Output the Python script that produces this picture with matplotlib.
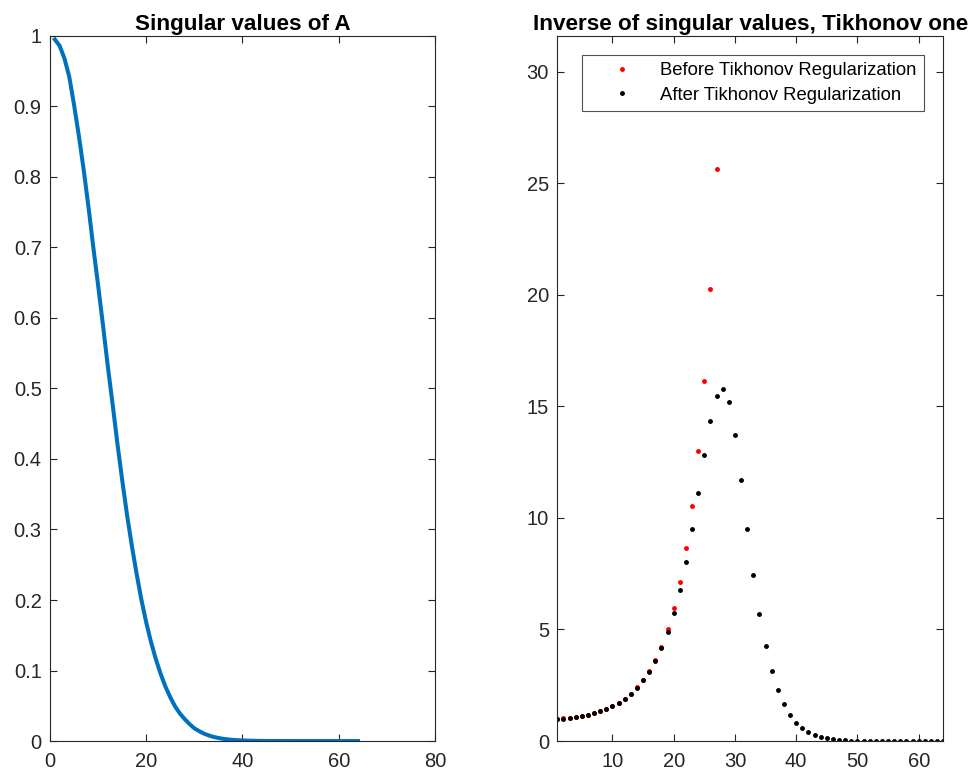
import matplotlib
matplotlib.use("Agg")
import matplotlib.pyplot as plt

plt.rcParams['font.family'] = ['Liberation Sans', 'DejaVu Sans']

# Singular values of A, index 1..64
sigma = [0.995, 0.986, 0.968, 0.942, 0.902, 0.858, 0.810, 0.757, 0.700, 0.646,
         0.590, 0.532, 0.478, 0.422, 0.370, 0.321, 0.277, 0.237, 0.200, 0.168,
         0.140, 0.116, 0.095, 0.077, 0.062, 0.049, 0.039, 0.031, 0.024, 0.018,
         0.014, 0.0105, 0.0079, 0.0058, 0.0043, 0.0031, 0.0023, 0.0016, 0.0012, 0.0008,
         0.0006, 0.0004, 0.00027, 0.00018, 0.00012, 0.00008, 0.00005, 0.00003, 0.00002, 0.00001,
         0.0, 0.0, 0.0, 0.0, 0.0, 0.0, 0.0, 0.0, 0.0, 0.0,
         0.0, 0.0, 0.0, 0.0]

# Inverse of singular values (only the part that stays inside the axes)
before = [1.005, 1.01, 1.03, 1.06, 1.11, 1.17, 1.24, 1.33, 1.44, 1.56,
          1.71, 1.90, 2.12, 2.40, 2.73, 3.13, 3.62, 4.23, 5.00, 5.95,
          7.13, 8.63, 10.54, 13.0, 16.15, 20.25, 25.62]

# Tikhonov filtered inverse, index 1..64
after = [0.99, 1.00, 1.03, 1.06, 1.11, 1.17, 1.24, 1.33, 1.44, 1.56,
         1.70, 1.90, 2.12, 2.39, 2.72, 3.11, 3.59, 4.17, 4.88, 5.74,
         6.79, 8.03, 9.48, 11.11, 12.80, 14.36, 15.46, 15.79, 15.18, 13.70,
         11.68, 9.50, 7.45, 5.68, 4.26, 3.14, 2.27, 1.64, 1.18, 0.82,
         0.58, 0.40, 0.27, 0.18, 0.12, 0.08, 0.05, 0.03, 0.02, 0.013,
         0.008, 0.005, 0.003, 0.002, 0.001, 0.0, 0.0, 0.0, 0.0, 0.0,
         0.0, 0.0, 0.0, 0.0]

idx_all = list(range(1, len(sigma) + 1))
idx_before = list(range(1, len(before) + 1))

axis_color = '#262626'

fig = plt.figure(figsize=(9.77, 7.74), dpi=100)
ax1 = fig.add_axes([0.0512, 0.0426, 0.394, 0.911])
ax2 = fig.add_axes([0.5704, 0.0426, 0.395, 0.911])

# Left panel: singular values
ax1.plot(idx_all, sigma, color='#0072BD', linewidth=2.9)
ax1.set_xlim(0, 80)
ax1.set_ylim(0, 1)
ax1.set_xticks([0, 20, 40, 60, 80])
ax1.set_yticks([0, 0.1, 0.2, 0.3, 0.4, 0.5, 0.6, 0.7, 0.8, 0.9, 1])
ax1.set_yticklabels(['0', '0.1', '0.2', '0.3', '0.4', '0.5', '0.6', '0.7', '0.8', '0.9', '1'])
ax1.set_title('Singular values of A', fontsize=16.2, fontweight='bold', pad=4)

# Right panel: inverse values before / after regularization
ax2.plot(idx_before, before, linestyle='none', marker='.', color='red',
         markersize=5, label='Before Tikhonov Regularization')
ax2.plot(idx_all, after, linestyle='none', marker='.', color='black',
         markersize=5, label='After Tikhonov Regularization')
ax2.set_xlim(1, 64)
ax2.set_ylim(0, 31.6)
ax2.set_xticks([10, 20, 30, 40, 50, 60])
ax2.set_yticks([0, 5, 10, 15, 20, 25, 30])
ax2.set_title('Inverse of singular values, Tikhonov one', fontsize=16.2,
              fontweight='bold', pad=4)
leg = ax2.legend(loc='upper right', fontsize=13.3, frameon=True, fancybox=False,
                 borderaxespad=1.05, handlelength=3.6, handletextpad=0.26,
                 borderpad=0.38, labelspacing=0.4)
leg.get_frame().set_edgecolor(axis_color)
leg.get_frame().set_linewidth(0.8)

for ax in (ax1, ax2):
    ax.tick_params(direction='in', length=5, width=0.8, top=True, right=True,
                   labelsize=14.5, colors=axis_color)
    ax.tick_params(axis='x', pad=8)
    ax.tick_params(axis='y', pad=6)
    for sp in ax.spines.values():
        sp.set_color(axis_color)
        sp.set_linewidth(0.8)

fig.savefig('out.png', dpi=100)
